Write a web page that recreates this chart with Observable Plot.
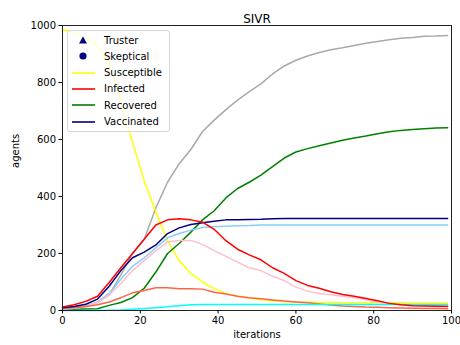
<!DOCTYPE html>
<html>
<head>
<meta charset="utf-8">
<script src="https://cdn.jsdelivr.net/npm/d3@7"></script>
<script src="https://cdn.jsdelivr.net/npm/@observablehq/plot@0.6"></script>
<style>
  body { margin: 0; background: #fff; }
  #wrap { position: relative; width: 460px; height: 345px; font-family: "DejaVu Sans", sans-serif; }
  #legend {
    position: absolute; left: 67px; top: 30px; width: 101px; height: 100px;
    background: rgba(255,255,255,0.8); border: 1px solid #d6d6d6; border-radius: 3px;
    font-size: 10px; color: #000;
  }
  .row { position: absolute; left: 0; height: 16px; display: flex; align-items: center; }
  .row svg { width: 36px; height: 16px; }
</style>
</head>
<body>
<div id="wrap"></div>
<script>
// iteration steps sampled along the run
const iterations = [0, 3, 6, 9, 12, 15, 18, 21, 24, 27, 30, 33, 36, 39, 42, 45, 48, 51, 54, 57, 60, 63, 66, 69, 72, 75, 78, 81, 84, 87, 90, 93, 96, 99];

// agent counts per state
const total      = [8, 12, 16, 28, 55, 125, 200, 250, 360, 450, 515, 565, 628, 668, 705, 738, 768, 795, 830, 858, 878, 893, 905, 915, 922, 930, 938, 944, 950, 955, 958, 962, 963, 965];
const susceptible = [985, 975, 955, 925, 870, 730, 590, 455, 345, 245, 175, 130, 100, 76, 60, 50, 44, 38, 34, 31, 30, 29, 28, 28, 27, 27, 27, 27, 27, 27, 26, 26, 26, 26];
const infected   = [12, 20, 32, 50, 98, 150, 200, 250, 300, 318, 322, 318, 310, 285, 245, 215, 195, 178, 150, 130, 105, 88, 78, 66, 56, 50, 42, 34, 25, 20, 17, 16, 15, 14];
const recovered  = [3, 4, 5, 6, 18, 28, 45, 78, 135, 200, 235, 275, 318, 350, 395, 428, 450, 475, 505, 535, 556, 568, 578, 588, 597, 605, 612, 620, 627, 632, 635, 638, 640, 641];
const vaccinated = [10, 14, 22, 40, 85, 140, 185, 205, 230, 270, 290, 302, 308, 313, 318, 318, 319, 320, 322, 323, 323, 323, 323, 323, 323, 323, 323, 323, 323, 323, 323, 323, 323, 323];
const vaccTrust  = [5, 8, 15, 30, 60, 110, 155, 185, 220, 255, 270, 282, 291, 294, 296, 297, 298, 300, 300, 300, 300, 300, 300, 300, 300, 300, 300, 300, 300, 300, 300, 300, 300, 300];
const infTrust   = [5, 8, 14, 28, 55, 95, 140, 175, 210, 240, 246, 246, 232, 210, 190, 170, 150, 140, 120, 105, 82, 68, 60, 55, 50, 45, 38, 30, 25, 21, 19, 18, 17, 17];
const infSkept   = [8, 10, 14, 20, 30, 45, 62, 70, 80, 80, 76, 76, 75, 64, 58, 50, 45, 41, 37, 33, 30, 27, 23, 19, 16, 14, 12, 11, 10, 9, 8, 7, 7, 6];
const vaccSkept  = [0, 0, 0, 0, 1, 2, 4, 7, 10, 13, 17, 20, 21, 21, 21, 21, 21, 21, 21, 21, 21, 21, 21, 21, 21, 21, 21, 21, 21, 21, 21, 21, 21, 21];

const series = [
  {values: total, color: "darkgray"},
  {values: susceptible, color: "yellow"},
  {values: recovered, color: "green"},
  {values: vaccTrust, color: "lightskyblue"},
  {values: infTrust, color: "pink"},
  {values: infSkept, color: "tomato"},
  {values: vaccSkept, color: "cyan"},
  {values: vaccinated, color: "navy"},
  {values: infected, color: "red"}
];

const lines = series.map(s =>
  Plot.line(iterations.map((t, i) => ({t, v: s.values[i]})), {
    x: "t", y: "v", stroke: s.color, strokeWidth: 1.5
  })
);

const chart = Plot.plot({
  width: 460,
  height: 345,
  marginLeft: 62,
  marginRight: 9,
  marginTop: 25,
  marginBottom: 35,
  style: {fontFamily: "DejaVu Sans, sans-serif", fontSize: "10px", background: "#fff", color: "#000"},
  x: {domain: [0, 100]},
  y: {domain: [0, 1000]},
  marks: [
    ...lines,
    Plot.frame({stroke: "#222", strokeWidth: 1}),
    Plot.axisX({ticks: [0, 20, 40, 60, 80, 100], tickFormat: d => String(d), tickSize: 3.5, tickPadding: 3, label: null}),
    Plot.axisY({ticks: [0, 200, 400, 600, 800, 1000], tickFormat: d => String(d), tickSize: 3.5, tickPadding: 3, label: null}),
    Plot.text(["SIVR"], {frameAnchor: "top", dy: -11, fontSize: 12, text: d => d}),
    Plot.text(["iterations"], {frameAnchor: "bottom", dy: 27, fontSize: 10, text: d => d}),
    Plot.text(["agents"], {frameAnchor: "left", dx: -47, rotate: -90, fontSize: 10, text: d => d})
  ]
});

const wrap = document.getElementById("wrap");
wrap.appendChild(chart);

// legend entries
const legendItems = [
  {label: "Truster", kind: "triangle", color: "navy"},
  {label: "Skeptical", kind: "circle", color: "navy"},
  {label: "Susceptible", kind: "line", color: "yellow"},
  {label: "Infected", kind: "line", color: "red"},
  {label: "Recovered", kind: "line", color: "green"},
  {label: "Vaccinated", kind: "line", color: "navy"}
];

const legend = document.createElement("div");
legend.id = "legend";
legendItems.forEach((item, i) => {
  const row = document.createElement("div");
  row.className = "row";
  row.style.top = (1 + i * 16.3) + "px";
  let icon;
  if (item.kind === "triangle") icon = `<polygon points="15,4.5 19,11.5 11,11.5" fill="${item.color}"/>`;
  else if (item.kind === "circle") icon = `<circle cx="15" cy="8" r="3.6" fill="${item.color}"/>`;
  else icon = `<line x1="4" x2="27" y1="8" y2="8" stroke="${item.color}" stroke-width="1.6"/>`;
  row.innerHTML = `<svg viewBox="0 0 36 16">${icon}</svg><span>${item.label}</span>`;
  legend.appendChild(row);
});
wrap.appendChild(legend);
</script>
</body>
</html>
